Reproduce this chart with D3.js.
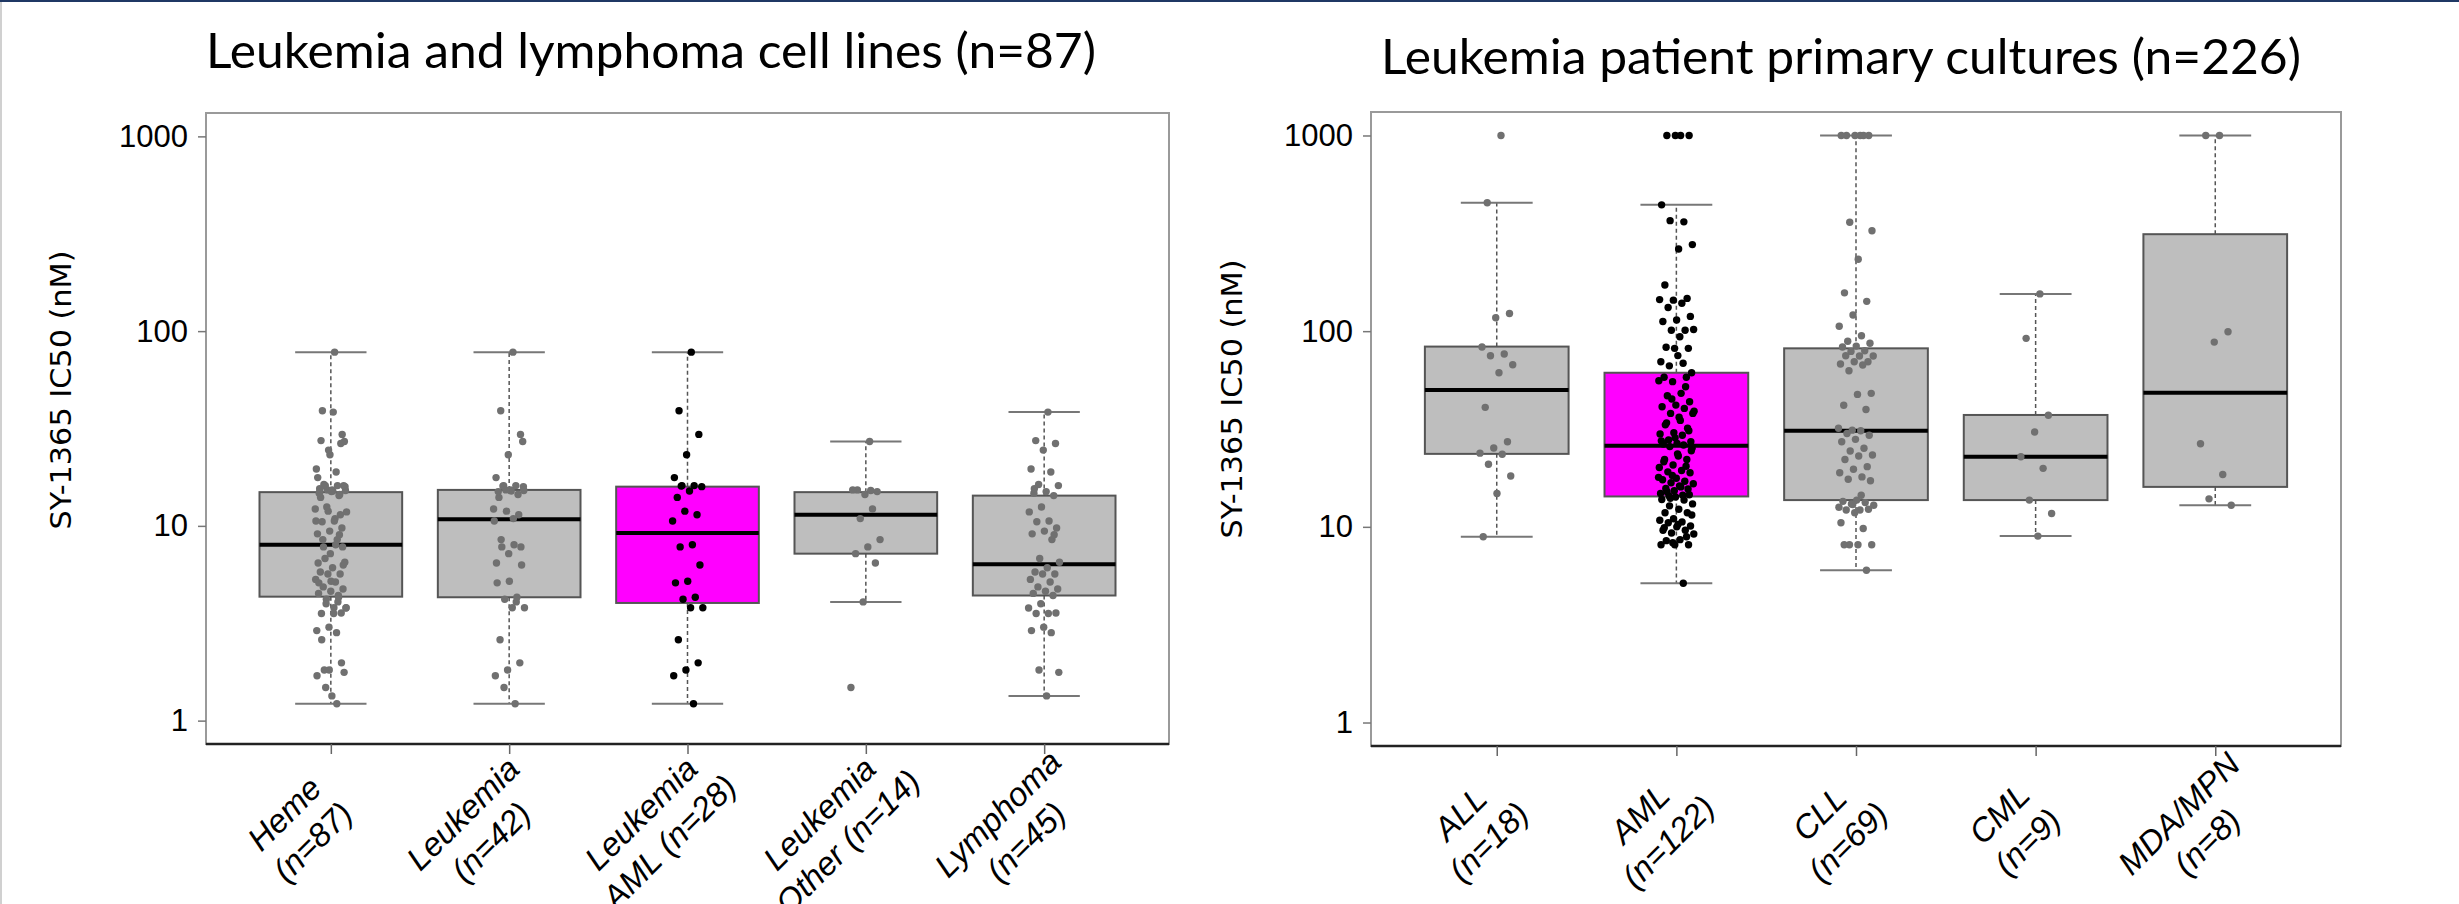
<!DOCTYPE html>
<html>
<head>
<meta charset="utf-8">
<script src="https://cdn.jsdelivr.net/npm/d3@7"></script>
<style>
  body { margin: 0; background: #fff; }
  svg { display: block; }
</style>
</head>
<body>
<svg id="chart" width="2459" height="904"></svg>
<script>
// ---- data (IC50 in nM) ----

// cell lines
const cellLabels = [["Heme", "(n=87)"], ["Leukemia", "(n=42)"], ["Leukemia", "AML (n=28)"],
                    ["Leukemia", "Other (n=14)"], ["Lymphoma", "(n=45)"]];
const cellAML = [78, 39, 29.5, 23.2, 17.7, 16.1, 16.1, 15.9, 15.1, 14.0, 11.4, 11.9, 10.6, 8.0, 7.8,
                 6.3, 5.2, 5.1, 4.3, 4.2, 3.8, 3.8, 2.6, 1.98, 1.82, 1.70, 1.22, 16.0];
const cellOther = [27.1, 15.3, 15.0, 14.5, 15.3, 12.2, 10.9, 8.5, 7.8, 7.2, 6.45, 4.07, 1.48, 15.2];
const cellLymphoma = [38.4, 27.4, 26.5, 24.5, 19.6, 18.9, 16.3, 16.1, 15.0, 14.7, 14.3, 12.5, 11.8,
                      10.6, 10.5, 9.76, 9.4, 9.1, 8.5, 6.8, 6.5, 6.1, 5.8, 5.66, 5.66, 5.31, 5.15,
                      4.86, 4.74, 4.62, 4.5, 4.39, 3.98, 3.79, 3.55, 3.55, 3.57, 3.02, 2.90, 2.83,
                      1.82, 1.77, 1.34, 15.5, 9.0];
const cellLeukemia = cellAML.concat(cellOther);
const cellHeme = cellLeukemia.concat(cellLymphoma);
const cellGroups = [cellHeme, cellLeukemia, cellAML, cellOther, cellLymphoma];
// box statistics
const cellLo  = [1.22, 1.22, 1.22, 4.07, 1.34];
const cellQ1  = [4.33, 4.3, 4.02, 7.2, 4.39];
const cellMed = [8.0, 10.8, 9.2, 11.4, 6.35];
const cellQ3  = [14.9, 15.3, 15.9, 14.9, 14.3];
const cellHi  = [78, 78, 78, 27.1, 38.4];
const cellHighlight = [false, false, true, false, false];

// patient primary cultures
const ptLabels = [["ALL", "(n=18)"], ["AML", "(n=122)"], ["CLL", "(n=69)"], ["CML", "(n=9)"], ["MDA/MPN", "(n=8)"]];
const ptALL = [1000, 453, 123, 117, 83, 76.4, 74.9, 67.3, 61.3, 40.8, 27.2, 25.3, 23.8, 23.5, 20.9, 18.2, 14.8, 8.9];
const ptAML = [1000, 1000, 1000, 1000, 442, 362, 367, 277, 263, 172, 147, 144, 145, 139, 132, 119, 114, 112,
               101, 101, 102, 93.6, 82.7, 81.7, 81.7, 69.8, 68.5, 66.5, 61.3, 75,
               58.1, 58.1, 55.2, 55.8, 48.1, 46.8, 43.6, 41.9, 41.1, 40.3, 38, 38, 36.3, 33.2, 31.9, 30.3,
               29.8, 29.4, 27.8, 27.2, 26.7, 26.5, 52, 45, 39, 35, 34, 31, 28.5, 27.5, 26.2,
               25.7, 25.2, 23.0, 22.1, 22.1, 20.7, 20.1, 19.4, 19.1, 18.9, 17.7, 17.4, 17.1, 16.8, 16.6,
               16.2, 15.7, 15.6, 15.3, 14.8, 14.5, 14.4, 24.5, 23.6, 21.5, 20.4, 18.3, 17.9, 16.0, 15.1, 14.6,
               14.2, 13.8, 13.7, 14.0, 13.1, 12.3, 11.8, 11.8, 11.0, 10.8, 10.6, 10.5, 10.1, 10.0, 9.6, 9.6,
               9.3, 9.2, 8.6, 8.5, 8.1, 8.1, 8.1, 5.15, 12.8, 11.5, 10.3, 9.9, 8.9, 8.3];
const ptCLL = [1000, 1000, 1000, 1000, 1000, 1000, 360, 326, 233, 157, 142, 121, 106, 94.8, 88.8, 86.7,
               83.9, 83, 79.4, 78.8, 74.6, 74.6, 74.9, 69.8, 69.8, 67.9, 67.1, 62.8, 48.1, 47.5, 41.8,
               39.8, 31.2, 31.9, 31, 30, 29.4, 28, 27.2, 25.2, 24.4, 23.3, 23, 22.1, 20.3, 19.7, 18.9,
               18, 17.5, 17.2, 13.7, 13.5, 13.3, 13.1, 12.9, 12.2, 12.2, 12.3, 11.8, 10.5, 9.8, 8.1,
               8.1, 8.1, 8.1, 6.0, 13.0, 12.6, 14.5];
const ptCML = [155, 91.9, 37.2, 30.5, 22.8, 19.9, 13.7, 11.7, 8.97];
const ptMDA = [1000, 1000, 99.3, 87.9, 26.6, 18.5, 13.9, 12.9];
const ptGroups = [ptALL, ptAML, ptCLL, ptCML, ptMDA];
const ptLo  = [8.9, 5.15, 6.0, 8.97, 12.9];
const ptQ1  = [23.6, 14.3, 13.7, 13.7, 16.0];
const ptMed = [50, 26, 31, 22.8, 48.4];
const ptQ3  = [83.4, 61.3, 81.7, 37.3, 313];
const ptHi  = [453, 442, 1000, 155, 1000];
const ptHighlight = [false, true, false, false, false];

const yTicks = [1, 10, 100, 1000];

// ---- drawing ----
const svg = d3.select("#chart");

// slide frame
svg.append("rect").attr("x", 0).attr("y", 0).attr("width", 2459).attr("height", 2).attr("fill", "#1f3864");
svg.append("rect").attr("x", 0).attr("y", 2).attr("width", 2).attr("height", 902).attr("fill", "#d0d0d0");

function panel(cfg) {
  const g = svg.append("g");
  const x = d3.scaleLinear().domain([0.3, 5.7]).range([cfg.left, cfg.right]);
  const y = d3.scaleLog().domain([Math.pow(10, -0.12), Math.pow(10, 3.12)]).range([cfg.bottom, cfg.top]);
  const boxW = x(1.8) - x(1);       // R default width 0.8
  const capW = boxW / 2;

  // title
  g.append("text")
    .attr("x", cfg.titleX).attr("y", cfg.titleY)
    .attr("font-family", "Lato, 'Open Sans', sans-serif")
    .attr("font-size", 49)
    .attr("textLength", cfg.titleW).attr("lengthAdjust", "spacingAndGlyphs")
    .attr("fill", "#000")
    .text(cfg.title);

  // y axis title
  g.append("text")
    .attr("transform", `translate(${cfg.ylabX},${cfg.ylabY}) rotate(-90)`)
    .attr("text-anchor", "middle")
    .attr("dominant-baseline", "central")
    .attr("font-family", "'DejaVu Sans', Verdana, sans-serif")
    .attr("font-size", 28)
    .attr("textLength", 279).attr("lengthAdjust", "spacingAndGlyphs")
    .text("SY-1365 IC50 (nM)");

  // frame
  g.append("rect")
    .attr("x", cfg.left).attr("y", cfg.top)
    .attr("width", cfg.right - cfg.left).attr("height", cfg.bottom - cfg.top)
    .attr("fill", "none").attr("stroke", "#9a9a9a").attr("stroke-width", 2);

  // y axis
  const ya = g.append("g")
    .attr("transform", `translate(${cfg.left},0)`)
    .call(d3.axisLeft(y).tickValues(yTicks).tickFormat(d3.format("d")).tickSize(8).tickPadding(10));
  ya.select(".domain").remove();
  ya.selectAll(".tick line").attr("stroke", "#777").attr("stroke-width", 1.5);
  ya.selectAll(".tick text")
    .attr("font-family", "'Liberation Sans', Arial, sans-serif")
    .attr("font-size", 31).attr("fill", "#000");

  // x axis
  const xa = g.append("g")
    .attr("transform", `translate(0,${cfg.bottom})`)
    .call(d3.axisBottom(x).tickValues([1, 2, 3, 4, 5]).tickFormat("").tickSize(10));
  xa.select(".domain").attr("stroke", "#222").attr("stroke-width", 2.5)
    .attr("d", `M${cfg.left},0H${cfg.right}`);
  xa.selectAll(".tick line").attr("stroke", "#666").attr("stroke-width", 1.5);

  // category labels
  cfg.labels.forEach((lines, i) => {
    const t = g.append("text")
      .attr("transform", `translate(${x(i + 1) + cfg.labDX},${cfg.bottom + cfg.labDY}) rotate(-45)`)
      .attr("text-anchor", "middle")
      .attr("font-family", "'Liberation Sans', Arial, sans-serif")
      .attr("font-style", "italic")
      .attr("font-size", 33);
    lines.forEach((s, j) => {
      t.append("tspan").attr("x", 0).attr("y", (j - 0.5) * 40 + 11).text(s);
    });
  });

  // boxes
  cfg.groups.forEach((vals, i) => {
    const cx = x(i + 1);
    const bg = g.append("g");
    // whiskers
    bg.append("line").attr("x1", cx).attr("x2", cx).attr("y1", y(cfg.q3[i])).attr("y2", y(cfg.hi[i]))
      .attr("stroke", "#555").attr("stroke-width", 1.5).attr("stroke-dasharray", "4,3");
    bg.append("line").attr("x1", cx).attr("x2", cx).attr("y1", y(cfg.q1[i])).attr("y2", y(cfg.lo[i]))
      .attr("stroke", "#555").attr("stroke-width", 1.5).attr("stroke-dasharray", "4,3");
    [cfg.hi[i], cfg.lo[i]].forEach(v => {
      bg.append("line").attr("x1", cx - capW / 2).attr("x2", cx + capW / 2).attr("y1", y(v)).attr("y2", y(v))
        .attr("stroke", "#777").attr("stroke-width", 2);
    });
    bg.append("rect")
      .attr("x", cx - boxW / 2).attr("width", boxW)
      .attr("y", y(cfg.q3[i])).attr("height", y(cfg.q1[i]) - y(cfg.q3[i]))
      .attr("fill", cfg.highlight[i] ? "#ff00ff" : "#bebebe")
      .attr("stroke", "#555").attr("stroke-width", 2);
    bg.append("line").attr("x1", cx - boxW / 2).attr("x2", cx + boxW / 2)
      .attr("y1", y(cfg.med[i])).attr("y2", y(cfg.med[i]))
      .attr("stroke", "#000").attr("stroke-width", 4);
  });

  // jittered points (deterministic spread)
  cfg.groups.forEach((vals, i) => {
    const cx = x(i + 1);
    g.append("g").selectAll("circle")
      .data(vals)
      .join("circle")
      .attr("cx", (d, k) => cx + (((k + 1) * 0.6180339887) % 1 - 0.5) * 2 * cfg.jitter)
      .attr("cy", d => y(d))
      .attr("r", 3.7)
      .attr("fill", cfg.highlight[i] ? "#000" : "#707070");
  });
}

panel({
  left: 206, right: 1169, top: 113, bottom: 744,
  title: "Leukemia and lymphoma cell lines (n=87)", titleX: 206, titleY: 68, titleW: 890,
  ylabX: 61, ylabY: 390,
  labels: cellLabels, labDX: -32, labDY: 84,
  groups: cellGroups, lo: cellLo, q1: cellQ1, med: cellMed, q3: cellQ3, hi: cellHi,
  highlight: cellHighlight, jitter: 16
});

panel({
  left: 1371, right: 2341, top: 112, bottom: 746,
  title: "Leukemia patient primary cultures (n=226)", titleX: 1381, titleY: 74, titleW: 920,
  ylabX: 1232, ylabY: 399,
  labels: ptLabels, labDX: -22, labDY: 82,
  groups: ptGroups, lo: ptLo, q1: ptQ1, med: ptMed, q3: ptQ3, hi: ptHi,
  highlight: ptHighlight, jitter: 18
});
</script>
</body>
</html>
